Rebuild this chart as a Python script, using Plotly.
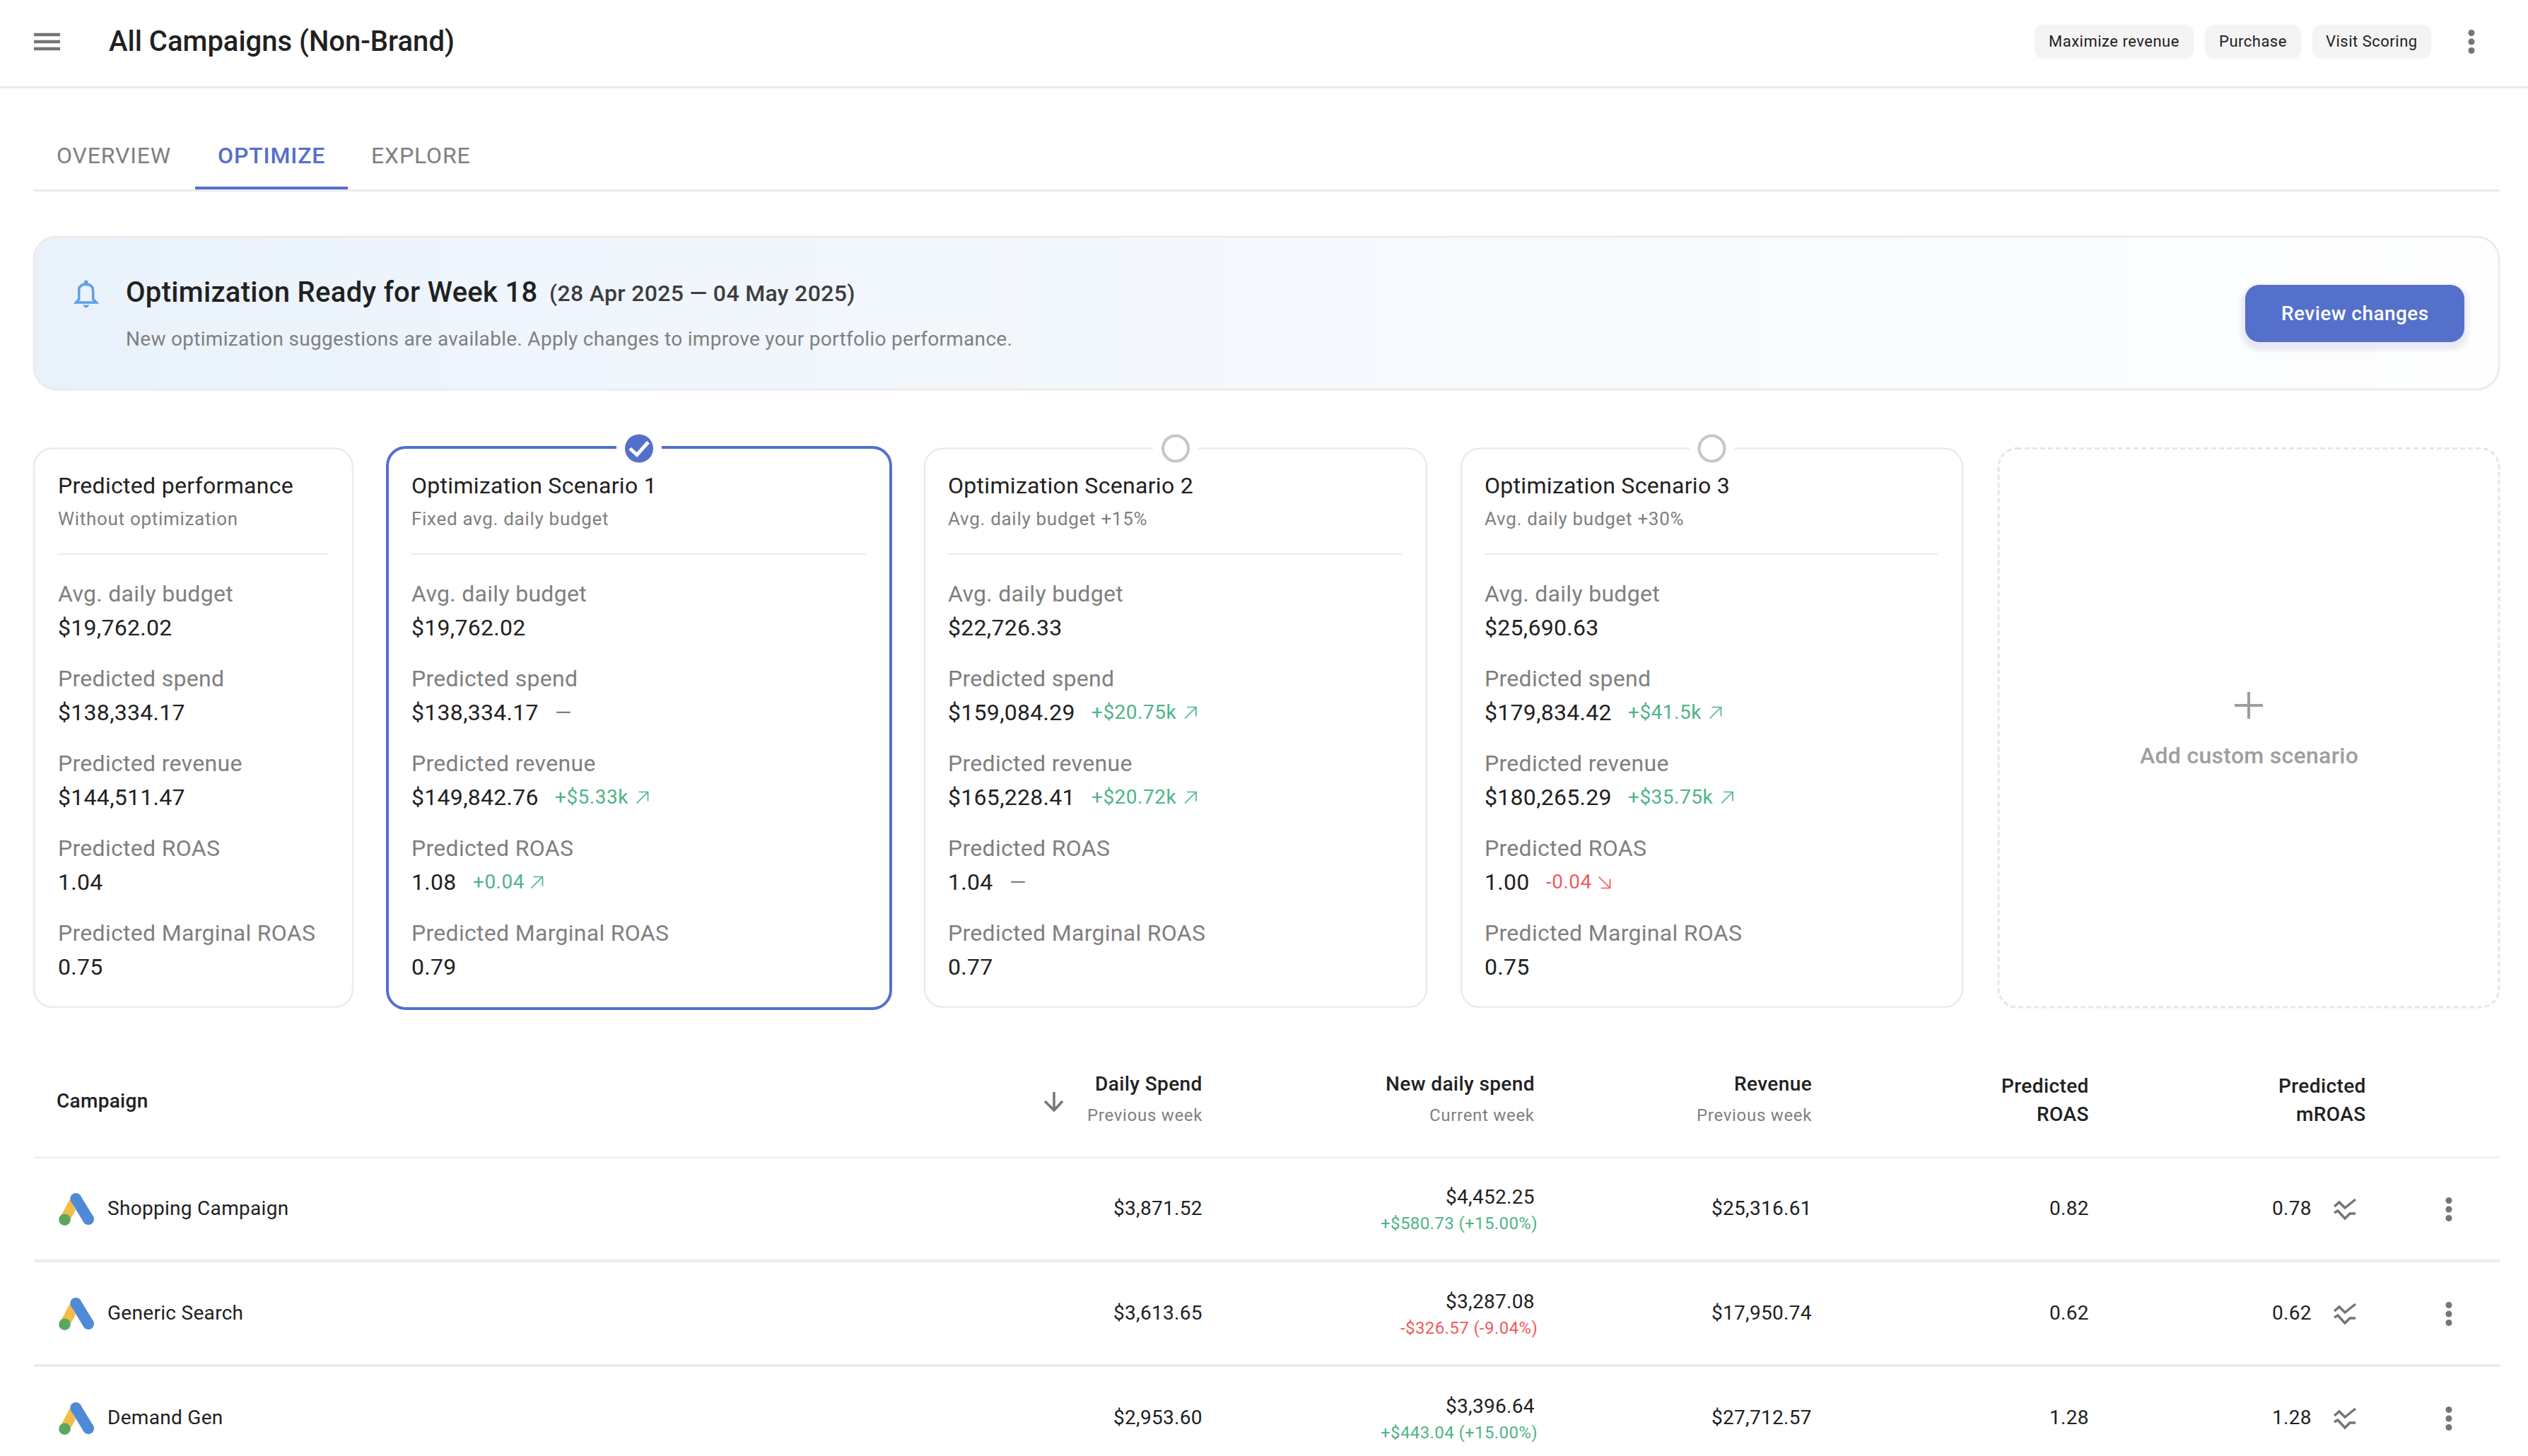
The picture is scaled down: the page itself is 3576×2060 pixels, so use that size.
import plotly.graph_objects as go

# --- chart content ---
page_title = "All Campaigns (Non-Brand)"
chips = ["Maximize revenue", "Purchase", "Visit Scoring"]
tabs = ["OVERVIEW", "OPTIMIZE", "EXPLORE"]

card_titles = ["Predicted performance", "Optimization Scenario 1", "Optimization Scenario 2", "Optimization Scenario 3"]
card_subtitles = ["Without optimization", "Fixed avg. daily budget", "Avg. daily budget +15%", "Avg. daily budget +30%"]
metric_labels = ["Avg. daily budget", "Predicted spend", "Predicted revenue", "Predicted ROAS", "Predicted Marginal ROAS"]
avg_budget = ["$19,762.02", "$19,762.02", "$22,726.33", "$25,690.63"]
pred_spend = ["$138,334.17", "$138,334.17", "$159,084.29", "$179,834.42"]
pred_revenue = ["$144,511.47", "$149,842.76", "$165,228.41", "$180,265.29"]
pred_roas = ["1.04", "1.08", "1.04", "1.00"]
pred_mroas = ["0.75", "0.79", "0.77", "0.75"]
spend_delta = [None, "—", "+$20.75k", "+$41.5k"]
revenue_delta = [None, "+$5.33k", "+$20.72k", "+$35.75k"]
roas_delta = [None, "+0.04", "—", "-0.04"]

campaigns = ["Shopping Campaign", "Generic Search", "Demand Gen"]
daily_spend = ["$3,871.52", "$3,613.65", "$2,953.60"]
new_spend = ["$4,452.25", "$3,287.08", "$3,396.64"]
new_spend_delta = ["+$580.73 (+15.00%)", "-$326.57 (-9.04%)", "+$443.04 (+15.00%)"]
revenue = ["$25,316.61", "$17,950.74", "$27,712.57"]
roas = ["0.82", "0.62", "1.28"]
mroas = ["0.78", "0.62", "1.28"]

# --- palette ---
INK = "#212121"
GREY = "#7f7f7f"
ICON = "#757575"
LINE = "#ebebeb"
BLUE = "#5470cb"
GREEN = "#4fb487"
RED = "#ef5b5b"
FONT = "Roboto"

shapes = []
notes = []


def text(x, y, s, size=28, color=INK, anchor="left", weight=400, ls=0.3):
    # letter spacing goes through plotly's span style, the screenshot's text is slightly tracked
    label = f'<span style="letter-spacing:{ls}px">{s}</span>' if ls else s
    notes.append(dict(x=x, y=y, text=label, showarrow=False, xanchor=anchor, yanchor="middle",
                      align=anchor, borderpad=0, borderwidth=0,
                      font=dict(family=FONT, size=size, color=color, weight=weight)))


def rrect_path(x0, y0, x1, y1, r):
    k = r * 0.448
    return (f"M{x0+r},{y0} L{x1-r},{y0} C{x1-k},{y0} {x1},{y0+k} {x1},{y0+r} "
            f"L{x1},{y1-r} C{x1},{y1-k} {x1-k},{y1} {x1-r},{y1} "
            f"L{x0+r},{y1} C{x0+k},{y1} {x0},{y1-k} {x0},{y1-r} "
            f"L{x0},{y0+r} C{x0},{y0+k} {x0+k},{y0} {x0+r},{y0} Z")


def rrect(x0, y0, x1, y1, r, fill="rgba(0,0,0,0)", line=None, width=0, dash="solid"):
    shapes.append(dict(type="path", path=rrect_path(x0, y0, x1, y1, r), fillcolor=fill,
                       line=dict(color=line or "rgba(0,0,0,0)", width=width, dash=dash)))


def rect(x0, y0, x1, y1, fill):
    shapes.append(dict(type="rect", x0=x0, y0=y0, x1=x1, y1=y1, fillcolor=fill, line=dict(width=0)))


def poly(points, color, width=3.5, close=False, fill="rgba(0,0,0,0)"):
    p = "M" + " L".join(f"{x},{y}" for x, y in points) + (" Z" if close else "")
    shapes.append(dict(type="path", path=p, fillcolor=fill, line=dict(color=color, width=width)))


def dot(cx, cy, r, fill, line=None, width=0):
    shapes.append(dict(type="circle", x0=cx-r, y0=cy-r, x1=cx+r, y1=cy+r, fillcolor=fill,
                       line=dict(color=line or "rgba(0,0,0,0)", width=width)))


def shadow(x0, y0, x1, y1, r, color, drop=8, steps=8):
    for i in range(steps):
        g = steps - i
        rrect(x0-g, y0+drop-g, x1+g, y1+drop+g, r+g, fill=color)


def kebab(cx, cy):
    for dy in (-12.5, 0, 12.5):
        dot(cx, cy+dy, 4.5, ICON)


def trend_arrow(x, y, up, color):
    # thin diagonal arrow, 17px box
    if up:
        poly([(x, y+8), (x+16, y-8)], color, 1.7)
        poly([(x+3, y-8), (x+16, y-8), (x+16, y+5)], color, 1.7)
    else:
        poly([(x, y-8), (x+16, y+8)], color, 1.7)
        poly([(x+3, y+8), (x+16, y+8), (x+16, y-5)], color, 1.7)


# --- top bar ---
for y in (49, 59, 69):
    rect(48, y-2.3, 85, y+2.3, ICON)
text(154, 58, page_title, size=40, weight=500, ls=0)
rect(0, 122, 3576, 125, LINE)
chip_boxes = [(2878, 3103), (3119, 3255), (3271, 3439)]
for (x0, x1), c in zip(chip_boxes, chips):
    rrect(x0, 35, x1, 83, 12, fill="#f4f4f4")
    text((x0+x1)/2, 58.5, c, size=22, anchor="center", ls=0.5)
kebab(3496, 59)

# --- tabs ---
tab_x = [80, 308, 525]
for i, (x, t) in enumerate(zip(tab_x, tabs)):
    text(x, 220, t, size=32, color=BLUE if i == 1 else GREY, weight=500 if i == 1 else 400, ls=0.85)
rect(48, 268, 3536, 271, LINE)
rect(276, 264, 492, 268, BLUE)

# --- banner ---
bx0, by0, bx1, by1, br = 48, 335, 3535, 551, 32
left, right = (233, 242, 251), (254, 254, 254)
n_strips = 120
for i in range(n_strips):
    f = (i / (n_strips - 1)) ** 0.85
    col = tuple(round(a + (b - a) * f) for a, b in zip(left, right))
    sx0 = bx0 + (bx1 - bx0) * i / n_strips
    sx1 = bx0 + (bx1 - bx0) * (i + 1) / n_strips + 1
    rect(sx0, by0, min(sx1, bx1), by1, f"rgb{col}")
k = br * 0.448
for cx, cy, sx, sy in [(bx0, by0, 1, 1), (bx1, by0, -1, 1), (bx0, by1, 1, -1), (bx1, by1, -1, -1)]:
    shapes.append(dict(type="path", fillcolor="white", line=dict(width=0),
                       path=(f"M{cx},{cy} L{cx+sx*br},{cy} C{cx+sx*k},{cy} {cx},{cy+sy*k} {cx},{cy+sy*br} Z")))
rrect(bx0, by0, bx1, by1, br, line=LINE, width=3)
# bell
bell = [(107.7, 428), (111.7, 423.3), (111.7, 413.3), (112, 407), (116, 403), (121.7, 402.3),
        (127, 403), (131, 407), (131.7, 413.3), (131.7, 423.3), (136.3, 428)]
poly(bell, "#5f9fe8", 3.5, close=True)
dot(121.7, 399.5, 3, "#5f9fe8")
shapes.append(dict(type="path", path="M117.7,432 L125.7,432 Q121.7,438 117.7,432 Z", fillcolor="#5f9fe8",
                   line=dict(color="#5f9fe8", width=1)))
text(178, 413, "Optimization Ready for Week 18", size=40, weight=500)
text(777, 415, "(28 Apr 2025 — 04 May 2025)", size=32, color="#3d3d3d", weight=500, ls=0.33)
text(178, 479.5, "New optimization suggestions are available. Apply changes to improve your portfolio performance.",
     size=28, color=GREY, ls=0.3)
shadow(3176, 403, 3486, 484, 20, "rgba(84,112,203,0.012)", drop=6, steps=10)
rrect(3176, 403, 3486, 484, 20, fill=BLUE)
text(3331, 443, "Review changes", size=28, color="white", anchor="center", weight=500, ls=0.45)

# --- scenario cards ---
card_boxes = [(48, 499), (548, 1260), (1308, 2018), (2067, 2776)]
card_text_x = [82, 582, 1341, 2100]
card_top, card_bottom = 634.5, 1425
label_y = [839.5, 959.5, 1079.5, 1199.5, 1319.5]
value_y = [887.5, 1007.5, 1127.5, 1247.5, 1367.5]

for i, (x0, x1) in enumerate(card_boxes):
    if i > 0:
        shadow(x0, card_top, x1, card_bottom, 26, "rgba(0,0,0,0.0014)", drop=10, steps=12)
    if i == 1:
        rrect(x0, card_top-1.5, x1, card_bottom+2, 26, fill="white", line=BLUE, width=4)
    else:
        rrect(x0, card_top, x1, card_bottom, 26, fill="white", line=LINE, width=2.5)
    tx = card_text_x[i]
    text(tx, 686.5, card_titles[i], size=32)
    text(tx, 733.5, card_subtitles[i], size=26, color=GREY, ls=0.7)
    rect(tx-1, 783, x1-35, 785, LINE)
    values = [avg_budget[i], pred_spend[i], pred_revenue[i], pred_roas[i], pred_mroas[i]]
    deltas = [None, spend_delta[i], revenue_delta[i], roas_delta[i], None]
    for ly, vy, lab, val, d in zip(label_y, value_y, metric_labels, values, deltas):
        text(tx, ly, lab, size=32, color=GREY)
        text(tx, vy, val, size=32)
        if d is None:
            continue
        dx = tx + (203 if len(val) > 6 else 87)
        if d == "—":
            text(dx, vy, d, size=30, color=GREY, ls=0)
            continue
        up = d.startswith("+")
        col = GREEN if up else RED
        text(dx, vy, d, size=28, color=col, ls=0.5)
        trend_arrow(dx + 16.5 * len(d) - (8 if not up else 0), vy+1, up, col)
    if i > 0:
        cx = (x0 + x1) / 2
        rect(cx-32, card_top-7, cx+32, card_top+6, "white")
        if i == 1:
            dot(cx, card_top, 20, BLUE)
            poly([(cx-13, card_top), (cx-3, card_top+9), (cx+13, card_top-9)], "white", 5)
        else:
            dot(cx, card_top, 18, "white", line="#c6c6c6", width=4)

# custom scenario placeholder
rrect(2827, card_top, 3535, card_bottom, 26, line="#e6e6e6", width=3, dash="7px,4px")
rect(3161, 996, 3201, 1000, "#9e9e9e")
rect(3179, 979, 3183, 1017, "#9e9e9e")
text(3181, 1069, "Add custom scenario", size=32, color="#9e9e9e", anchor="center", weight=500)

# --- table header ---
text(80, 1557, "Campaign", size=28, weight=500)
poly([(1491, 1545), (1491, 1570)], ICON, 3.5)
poly([(1478, 1558), (1491, 1571), (1503, 1558)], ICON, 3.5)
col_right = [1701, 2171, 2563, 2955, 3347]
heads = [("Daily Spend", "Previous week"), ("New daily spend", "Current week"), ("Revenue", "Previous week")]
for x, (h, sub) in zip(col_right, heads):
    text(x, 1533, h, size=28, anchor="right", weight=500, ls=0.4)
    text(x, 1577.5, sub, size=24, color=GREY, anchor="right", ls=0.7)
for x, lower in zip(col_right[3:], ["ROAS", "mROAS"]):
    text(x, 1536, "Predicted", size=28, anchor="right", weight=500, ls=0.4)
    text(x, 1576, lower, size=28, anchor="right", weight=500, ls=0.4)
rect(48, 1636.5, 3536, 1638.5, LINE)

# --- table rows ---
row_y = [1711, 1859, 2007]
rule_y = [1784, 1932]
for y in rule_y:
    rect(48, y-2, 3536, y+2, "#ececec")
for j, y in enumerate(row_y):
    # ads logo
    yy = y - 1711
    poly([(99, 1696+yy), (107, 1712+yy), (98, 1728+yy), (85, 1723+yy)], "#f3bd45", 0, close=True, fill="#f3bd45")
    poly([(100.3, 1699.8+yy), (114.3, 1692.2+yy), (132, 1721.2+yy), (118, 1728.8+yy)], "#4f8ad6", 0, close=True, fill="#4f8ad6")
    dot(107.3, 1696+yy, 8, "#4f8ad6")
    dot(125, 1725+yy, 8, "#4f8ad6")
    dot(91.5, 1725.7+yy, 8.3, "#5aa85f")
    ty = y - 2
    text(152, ty, campaigns[j], size=28)
    text(col_right[0], ty, daily_spend[j], size=28, anchor="right")
    text(col_right[1], ty-16, new_spend[j], size=28, anchor="right")
    d = new_spend_delta[j]
    text(col_right[1]+4, ty+22, d, size=24, color=GREEN if d.startswith("+") else RED, anchor="right", ls=0.4)
    text(col_right[2], ty, revenue[j], size=28, anchor="right")
    text(col_right[3], ty, roas[j], size=28, anchor="right")
    text(3270, ty, mroas[j], size=28, anchor="right")
    poly([(3302, 1707+yy), (3309, 1701+yy), (3317, 1709+yy), (3332, 1697+yy)], ICON, 3.5)
    poly([(3302, 1716+yy), (3307, 1713+yy), (3317, 1724+yy), (3324, 1717+yy), (3332, 1717+yy)], ICON, 3.5)
    kebab(3464, y)

fig = go.Figure()
fig.update_layout(
    width=3576, height=2060, margin=dict(l=0, r=0, t=0, b=0),
    paper_bgcolor="white", plot_bgcolor="white", showlegend=False,
    xaxis=dict(range=[0, 3576], visible=False, fixedrange=True),
    yaxis=dict(range=[2060, 0], visible=False, fixedrange=True),
    shapes=shapes, annotations=notes,
)

fig.write_html("out.html", config={"displayModeBar": False},
               post_script="document.body.style.margin='0';document.documentElement.style.overflow='hidden';")
